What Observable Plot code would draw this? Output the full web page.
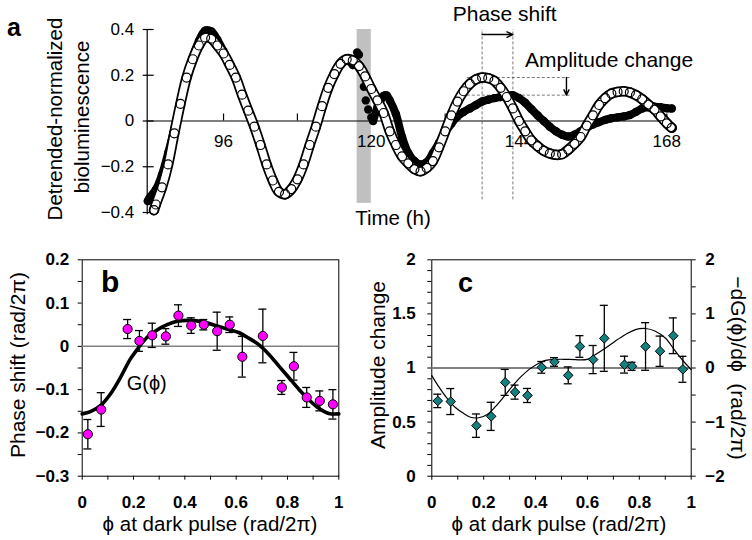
<!DOCTYPE html>
<html><head><meta charset="utf-8">
<script src="https://cdn.jsdelivr.net/npm/d3@7"></script>
<script src="https://cdn.jsdelivr.net/npm/@observablehq/plot@0.6"></script>
<style>
body{margin:0;background:#fff;}
#wrap{position:relative;width:752px;height:540px;overflow:hidden;background:#fff;}
#wrap svg{position:absolute;}
</style></head><body><div id="wrap"></div>
<script>
const FONT = '"Liberation Sans", Arial, Helvetica, sans-serif';

// ---------- Panel a: detrended-normalized bioluminescence ----------
const openTime = [84.7,85,86,87,88,89,90,91,92,93,94,95,96,97,98,99,100,101,102,103,104,105,106,107,108,109,110,111,112,113,114,115,116,117,118,119,120,121,122,123,124,125,126,127,128,129,130,131,132,133,134,135,136,137,138,139,140,141,142,143,144,145,146,147,148,149,150,151,152,153,154,155,156,157,158,159,160,161,162,163,164,165,166,167,168,168.8];
const openValue = [-0.39,-0.365,-0.29,-0.19,-0.054,0.075,0.19,0.27,0.33,0.365,0.36,0.33,0.295,0.245,0.19,0.115,0.045,-0.025,-0.105,-0.19,-0.26,-0.31,-0.32,-0.298,-0.255,-0.19,-0.105,-0.025,0.065,0.145,0.205,0.25,0.27,0.265,0.24,0.195,0.14,0.09,0.035,-0.045,-0.105,-0.155,-0.185,-0.21,-0.22,-0.205,-0.175,-0.115,-0.045,0.025,0.085,0.13,0.162,0.182,0.19,0.187,0.175,0.145,0.105,0.055,0.0,-0.045,-0.085,-0.11,-0.13,-0.142,-0.148,-0.145,-0.125,-0.1,-0.07,-0.02,0.025,0.07,0.1,0.12,0.127,0.13,0.125,0.113,0.095,0.072,0.05,0.02,-0.01,-0.03];
const pulseTime = [83.7,84,85,86,87,88,89,90,91,92,93,94,95,96,97,98,99,100,101,102,103,104,105,106,107,108,109,110,111,112,113,114,115,116,117,117.7,118,118.8,119.1,119.5,120,120.3,121,121.5,122,122.5,123,124,125,126,127,128,129,130,131,132,133,134,135,136,137,138,139,140,141,142,143,144,145,146,147,148,149,150,151,152,153,154,155,156,157,158,159,160,161,162,163,164,165,166,167,168,168.8];
const pulseValue = [-0.35,-0.335,-0.3,-0.235,-0.14,-0.035,0.08,0.19,0.28,0.35,0.395,0.392,0.355,0.305,0.25,0.19,0.12,0.045,-0.03,-0.11,-0.19,-0.26,-0.31,-0.325,-0.305,-0.26,-0.19,-0.11,-0.03,0.055,0.135,0.2,0.245,0.265,0.245,0.30,0.29,0.15,0.09,0.05,0.015,0.0,0.06,0.09,0.11,0.112,0.09,0.03,-0.07,-0.14,-0.175,-0.19,-0.18,-0.14,-0.095,-0.05,-0.012,0.02,0.04,0.055,0.07,0.085,0.093,0.1,0.105,0.11,0.113,0.1,0.08,0.052,0.025,0.0,-0.025,-0.045,-0.06,-0.068,-0.06,-0.045,-0.03,-0.015,-0.005,0.005,0.012,0.016,0.02,0.026,0.04,0.055,0.06,0.062,0.06,0.056,0.055];
const darkPulse = [117.7, 120.0];          // shaded dark-pulse window (h)
const timeDomain = [83.6, 168.6];
const timeTicks = [96,108,120,132,144,156,168];
const timeLabels = [96,120,144,168];
const lumTicks = [-0.4,-0.2,0,0.2,0.4];
const ampArrowTime = 151.7;

// ---------- Panel b: phase shift ----------
const phaseB = [0.022,0.074,0.177,0.223,0.273,0.326,0.375,0.425,0.474,0.526,0.575,0.624,0.704,0.778,0.825,0.875,0.926,0.977];
const shiftB = [-0.203,-0.146,0.040,0.0125,0.0255,0.023,0.071,0.048,0.050,0.035,0.050,-0.024,0.024,-0.095,-0.046,-0.118,-0.126,-0.134];
const shiftErrB = [0.034,0.039,0.022,0.024,0.028,0.018,0.025,0.018,0.012,0.044,0.018,0.047,0.062,0.016,0.032,0.023,0.023,0.034];
const gPhase = [0,0.032,0.071,0.110,0.149,0.188,0.221,0.253,0.292,0.331,0.370,0.422,0.474,0.526,0.571,0.610,0.649,0.688,0.727,0.766,0.805,0.844,0.883,0.922,0.961,1.0];
const gValue = [-0.156,-0.151,-0.137,-0.110,-0.072,-0.029,-0.002,0.021,0.038,0.050,0.058,0.060,0.056,0.047,0.039,0.032,0.019,0.004,-0.018,-0.045,-0.072,-0.099,-0.123,-0.143,-0.155,-0.156];
const shiftTicks = [-0.3,-0.25,-0.2,-0.15,-0.1,-0.05,0,0.05,0.1,0.15,0.2];
const shiftLabels = [-0.3,-0.2,-0.1,0,0.1,0.2];

// ---------- Panel c: amplitude change ----------
const phaseC = [0.023,0.073,0.172,0.229,0.283,0.321,0.369,0.424,0.473,0.526,0.571,0.622,0.665,0.743,0.772,0.824,0.880,0.931,0.968];
const ampC = [0.696,0.69,0.467,0.553,0.867,0.777,0.746,1.006,1.056,0.932,1.199,1.078,1.274,1.031,1.016,1.199,1.155,1.298,0.988];
const ampErrC = [0.062,0.12,0.108,0.13,0.12,0.065,0.065,0.054,0.04,0.078,0.10,0.13,0.305,0.078,0.037,0.22,0.14,0.165,0.12];
const dgPhase = [0,0.026,0.059,0.091,0.123,0.149,0.181,0.214,0.246,0.278,0.310,0.342,0.374,0.406,0.438,0.477,0.53,0.599,0.631,0.670,0.708,0.747,0.785,0.824,0.862,0.901,0.939,0.971,1.0];
const dgValue = [-0.14,-0.34,-0.56,-0.73,-0.84,-0.91,-0.92,-0.86,-0.71,-0.53,-0.34,-0.17,-0.03,0.07,0.14,0.16,0.16,0.16,0.25,0.37,0.50,0.62,0.71,0.73,0.68,0.55,0.31,0.12,-0.03]; // −dG/dφ, right axis units
const ampTicks = [0,0.1,0.2,0.3,0.4,0.5,0.6,0.7,0.8,0.9,1,1.1,1.2,1.3,1.4,1.5,1.6,1.7,1.8,1.9,2];
const ampLabels = [0,0.5,1,1.5,2];
const dgTicks = [-2,-1.5,-1,-0.5,0,0.5,1,1.5,2];
const dgLabels = [-2,-1,0,1,2];
const phaseTicks = [0,0.1,0.2,0.3,0.4,0.5,0.6,0.7,0.8,0.9,1];
const phaseLabels = [0,0.2,0.4,0.6,0.8,1];

const fmt = d3.format("~g");
const only = (labels) => d => labels.some(v => Math.abs(v - d) < 1e-9) ? fmt(d) : "";
const wrap = document.getElementById("wrap");
function place(svg, left, top) { svg.style.left = left + "px"; svg.style.top = top + "px"; wrap.appendChild(svg); }

// ---------- build panel a ----------
const openData = openTime.map((t, i) => ({t, v: openValue[i]}));
const pulseData = pulseTime.map((t, i) => ({t, v: pulseValue[i], seg: t < darkPulse[0] ? "pre" : t > darkPulse[1] ? "post" : "in"}));
const peakIn = (arr, lo, hi) => arr.filter(d => d.t >= lo && d.t <= hi).reduce((a, b) => b.v > a.v ? b : a);
const openPeak = peakIn(openData, 130, 150), pulsePeak = peakIn(pulseData, 130, 150);

const plotA = Plot.plot({
  width: 752, height: 240, marginLeft: 146.7, marginRight: 82, marginTop: 29, marginBottom: 28,
  x: {domain: timeDomain, axis: null}, y: {domain: [-0.4, 0.4]},
  style: {fontFamily: FONT, fontSize: "17px", background: "transparent", overflow: "visible"},
  marks: [
    Plot.rect([darkPulse], {x1: d => d[0], x2: d => d[1], y1: -0.36, y2: 0.4, fill: "#c0c0c0"}),
    Plot.ruleX([openPeak.t, pulsePeak.t], {y1: -0.345, y2: 0.4, stroke: "#555", strokeWidth: 0.8, strokeDasharray: "3,2"}),
    Plot.ruleY([openPeak.v, pulsePeak.v], {x1: openPeak.t - 2.4, x2: ampArrowTime + 0.6, stroke: "#555", strokeWidth: 0.8, strokeDasharray: "3,2"}),
    Plot.arrow([{a: openPeak.t, b: pulsePeak.t}], {x1: "a", x2: "b", y1: 0.378, y2: 0.378, stroke: "#000", strokeWidth: 1.4, headLength: 7, headAngle: 50}),
    Plot.arrow([{a: openPeak.v, b: pulsePeak.v}], {x1: ampArrowTime, x2: ampArrowTime, y1: "a", y2: "b", stroke: "#000", strokeWidth: 1.4, headLength: 7, headAngle: 50}),
    Plot.ruleY([0], {x1: timeDomain[0], x2: timeDomain[1], stroke: "#000", strokeWidth: 1.2}),
    Plot.ruleX([timeDomain[0]], {y1: -0.41, y2: 0.4, stroke: "#000", strokeWidth: 1.2}),
    Plot.ruleY(lumTicks, {y: d => d, x1: timeDomain[0], x2: timeDomain[0], insetLeft: -4, insetRight: -7, stroke: "#000", strokeWidth: 1.2}),
    Plot.ruleX(timeTicks, {x: d => d, y1: 0, y2: 0, insetTop: -7, stroke: "#000", strokeWidth: 1.2}),
    Plot.axisY({ticks: lumTicks, tickSize: 0, tickPadding: 13, tickFormat: fmt, label: null}),
    Plot.text(timeLabels, {x: d => d, y: 0, dy: 21, text: d => String(d)}),
    // dark-pulse series (filled)
    Plot.line(pulseData.filter(d => d.seg !== "in"), {x: "t", y: "v", z: "seg", curve: "catmull-rom", stroke: "#000", strokeWidth: 8}),
    Plot.dot(pulseData, {x: "t", y: "v", r: 4.2, fill: "#000"}),
    // control series (open circles, densely overlapping)
    Plot.line(openData, {x: "t", y: "v", curve: "catmull-rom", stroke: "#000", strokeWidth: 10.5}),
    Plot.line(openData, {x: "t", y: "v", curve: "catmull-rom", stroke: "#fff", strokeWidth: 7, strokeDasharray: "1.8,1.5"}),
    Plot.dot(openData, {x: "t", y: "v", r: 4.5, fill: "none", stroke: "#000", strokeWidth: 1.2})
  ]
});
place(plotA, 0, 0);

// ---------- build panel b ----------
const bData = phaseB.map((p, i) => ({p, v: shiftB[i], e: shiftErrB[i]}));
const gData = gPhase.map((p, i) => ({p, v: gValue[i]}));
const plotB = Plot.plot({
  width: 370, height: 300, marginLeft: 81.7, marginRight: 31.7, marginTop: 19.3, marginBottom: 64.3,
  x: {domain: [0, 1]}, y: {domain: [-0.3, 0.2]},
  style: {fontFamily: FONT, fontSize: "17px", fontWeight: "bold", background: "transparent", overflow: "visible"},
  marks: [
    Plot.frame({stroke: "#000", strokeWidth: 1}),
    Plot.ruleY([0], {stroke: "#808080", strokeWidth: 1.5}),
    Plot.axisY({ticks: shiftTicks, tickSize: 4, tickPadding: 9, tickFormat: only(shiftLabels), label: null}),
    Plot.axisX({ticks: phaseTicks, tickSize: 4, tickPadding: 16, tickFormat: only(phaseLabels), label: null}),
    Plot.line(gData, {x: "p", y: "v", curve: "catmull-rom", stroke: "#000", strokeWidth: 3.6}),
    Plot.ruleX(bData, {x: "p", y1: d => d.v - d.e, y2: d => d.v + d.e, stroke: "#000", strokeWidth: 1.3}),
    Plot.ruleY(bData, {y: d => d.v - d.e, x1: "p", x2: "p", insetLeft: -4, insetRight: -4, stroke: "#000", strokeWidth: 1.3}),
    Plot.ruleY(bData, {y: d => d.v + d.e, x1: "p", x2: "p", insetLeft: -4, insetRight: -4, stroke: "#000", strokeWidth: 1.3}),
    Plot.dot(bData, {x: "p", y: "v", r: 4.6, fill: "#ff00ff", stroke: "#000", strokeWidth: 1})
  ]
});
place(plotB, 0, 240);

// ---------- build panel c ----------
const cData = phaseC.map((p, i) => ({p, v: ampC[i], e: ampErrC[i]}));
const toLeft = r => 1 + r / 2;          // right-axis value -> left-axis position
const dgData = dgPhase.map((p, i) => ({p, v: toLeft(dgValue[i])}));
const plotC = Plot.plot({
  width: 382, height: 300, marginLeft: 61.3, marginRight: 61.3, marginTop: 19.3, marginBottom: 64.3,
  x: {domain: [0, 1]}, y: {domain: [0, 2]},
  style: {fontFamily: FONT, fontSize: "17px", fontWeight: "bold", background: "transparent", overflow: "visible"},
  marks: [
    Plot.frame({stroke: "#000", strokeWidth: 1}),
    Plot.ruleY([1], {stroke: "#808080", strokeWidth: 2}),
    Plot.axisY({ticks: ampTicks, tickSize: 4, tickPadding: 12, tickFormat: only(ampLabels), label: null}),
    Plot.axisY({anchor: "right", ticks: dgTicks.map(toLeft), tickSize: 4, tickPadding: 10,
      tickFormat: d => { const r = Math.round((d - 1) * 2 * 1000) / 1000; return dgLabels.includes(r) ? fmt(r) : ""; }, label: null}),
    Plot.axisX({ticks: phaseTicks, tickSize: 4, tickPadding: 16, tickFormat: only(phaseLabels), label: null}),
    Plot.line(dgData, {x: "p", y: "v", curve: "catmull-rom", stroke: "#000", strokeWidth: 1.2}),
    Plot.ruleX(cData, {x: "p", y1: d => d.v - d.e, y2: d => d.v + d.e, stroke: "#000", strokeWidth: 1.3}),
    Plot.ruleY(cData, {y: d => d.v - d.e, x1: "p", x2: "p", insetLeft: -4, insetRight: -4, stroke: "#000", strokeWidth: 1.3}),
    Plot.ruleY(cData, {y: d => d.v + d.e, x1: "p", x2: "p", insetLeft: -4, insetRight: -4, stroke: "#000", strokeWidth: 1.3}),
    Plot.dot(cData, {x: "p", y: "v", symbol: "diamond2", r: 4.3, fill: "#148080", stroke: "#000", strokeWidth: 1})
  ]
});
place(plotC, 370, 240);

// ---------- text labels ----------
const labels = [
  {t: "a", x: 7, y: 36, size: 25, weight: "bold", anchor: "start"},
  {t: "Detrended-normalized", x: 55, y: 119, rot: -90, size: 20.5},
  {t: "bioluminescence", x: 81.5, y: 117, rot: -90, size: 20.5},
  {t: "Time (h)", x: 393, y: 224.5, size: 20.5, anchor: "middle"},
  {t: "Phase shift", x: 504.7, y: 20.7, size: 21, anchor: "middle"},
  {t: "Amplitude change", x: 525, y: 66.7, size: 21, anchor: "start"},
  {t: "b", x: 101, y: 291.7, size: 30, weight: "bold", anchor: "start"},
  {t: "G(ϕ)", x: 126.7, y: 389.5, size: 20, anchor: "start"},
  {t: "Phase shift (rad/2π)", x: 18, y: 365, rot: -90, size: 21},
  {t: "ϕ at dark pulse (rad/2π)", x: 210, y: 531, size: 20.5, anchor: "middle"},
  {t: "c", x: 458, y: 291.7, size: 27, weight: "bold", anchor: "start"},
  {t: "Amplitude change", x: 378, y: 365, rot: -90, size: 21},
  {t: "−dG(ϕ)/dϕ  (rad/2π)", x: 738, y: 368, rot: 90, size: 21},
  {t: "ϕ at dark pulse (rad/2π)", x: 559, y: 531, size: 20.5, anchor: "middle"}
];
const over = d3.create("svg").attr("width", 752).attr("height", 540)
  .style("left", "0px").style("top", "0px").style("pointer-events", "none");
for (const l of labels) {
  const txt = over.append("text").text(l.t)
    .attr("font-family", FONT).attr("font-size", l.size).attr("font-weight", l.weight || "normal")
    .attr("fill", "#000").style("white-space", "pre");
  if (l.rot) {
    txt.attr("transform", `translate(${l.x},${l.y}) rotate(${l.rot})`).attr("text-anchor", "middle").attr("dy", "0.35em");
  } else {
    txt.attr("x", l.x).attr("y", l.y).attr("text-anchor", l.anchor);
  }
}
wrap.appendChild(over.node());
</script></body></html>
